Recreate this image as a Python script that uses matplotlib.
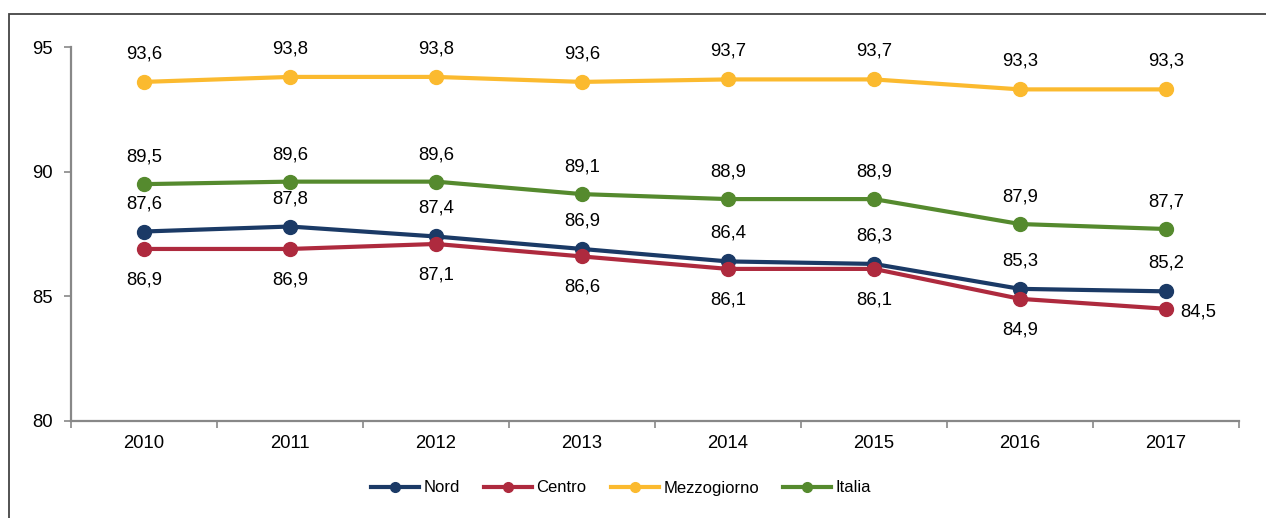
import matplotlib
matplotlib.use("Agg")
import matplotlib.pyplot as plt
from matplotlib.patches import Rectangle
from matplotlib.lines import Line2D

years = ["2010", "2011", "2012", "2013", "2014", "2015", "2016", "2017"]
nord = [87.6, 87.8, 87.4, 86.9, 86.4, 86.3, 85.3, 85.2]
centro = [86.9, 86.9, 87.1, 86.6, 86.1, 86.1, 84.9, 84.5]
mezzogiorno = [93.6, 93.8, 93.8, 93.6, 93.7, 93.7, 93.3, 93.3]
italia = [89.5, 89.6, 89.6, 89.1, 88.9, 88.9, 87.9, 87.7]
series_names = ["Nord", "Centro", "Mezzogiorno", "Italia"]
y_ticks = [80, 85, 90, 95]

colors = {"Nord": "#1B3A66", "Centro": "#AE2A3E", "Mezzogiorno": "#FBBA2F", "Italia": "#558A2E"}

plt.rcParams['font.family'] = ['Liberation Sans', 'DejaVu Sans']
FS = 13.3

W, H = 1266, 518
fig = plt.figure(figsize=(W / 100, H / 100), dpi=100)
ax = fig.add_axes([71 / W, (H - 421) / H, (1239 - 71) / W, (421 - 47) / H])

# outer frame
fig.patches.append(Rectangle((9 / W, -0.1), 1.2, 1.1 - 14 / H, transform=fig.transFigure,
                             fill=False, edgecolor="#444444", linewidth=1.3, zorder=0))

x = [i + 0.5 for i in range(len(years))]
data = {"Nord": nord, "Centro": centro, "Mezzogiorno": mezzogiorno, "Italia": italia}
for name in series_names:
    ax.plot(x, data[name], color=colors[name], lw=3, marker="o", ms=10, solid_capstyle="round", zorder=3)

def fmt(v):
    return f"{v:.1f}".replace(".", ",")

for name, off in [("Mezzogiorno", 28), ("Italia", 27), ("Nord", 28)]:
    for xi, v in zip(x, data[name]):
        ax.annotate(fmt(v), (xi, v), xytext=(0, off), textcoords="offset pixels",
                    ha="center", va="center", fontsize=FS, color="#000000")
for i, (xi, v) in enumerate(zip(x, centro)):
    if i == len(centro) - 1:
        ax.annotate(fmt(v), (xi, v), xytext=(32, -3), textcoords="offset pixels",
                    ha="center", va="center", fontsize=FS)
    else:
        ax.annotate(fmt(v), (xi, v), xytext=(0, -31), textcoords="offset pixels",
                    ha="center", va="center", fontsize=FS)

ax.set_xlim(0, len(years))
ax.set_ylim(80, 95)
ax.set_yticks(y_ticks)
ax.set_yticklabels([str(t) for t in y_ticks], fontsize=FS)
ax.set_xticks(x)
ax.set_xticklabels(years, fontsize=FS)
ax.tick_params(axis="x", length=0, pad=10)
ax.set_xticks(range(len(years) + 1), minor=True)
ax.tick_params(axis="x", which="minor", length=5, color="#888888", width=1.2)
ax.tick_params(axis="y", length=5, color="#888888", width=1.2, pad=8)
for s in ["top", "right"]:
    ax.spines[s].set_visible(False)
for s in ["left", "bottom"]:
    ax.spines[s].set_color("#888888")
    ax.spines[s].set_linewidth(1.6)

handles = [Line2D([], [], color=colors[n], lw=3, marker="o", ms=7) for n in series_names]
leg = fig.legend(handles, series_names, loc="center", bbox_to_anchor=(621 / W, (H - 488) / H),
                 ncol=4, frameon=False, fontsize=12, handlelength=2.9, handletextpad=0.25,
                 columnspacing=1.45)

fig.savefig("out.png", dpi=100)
